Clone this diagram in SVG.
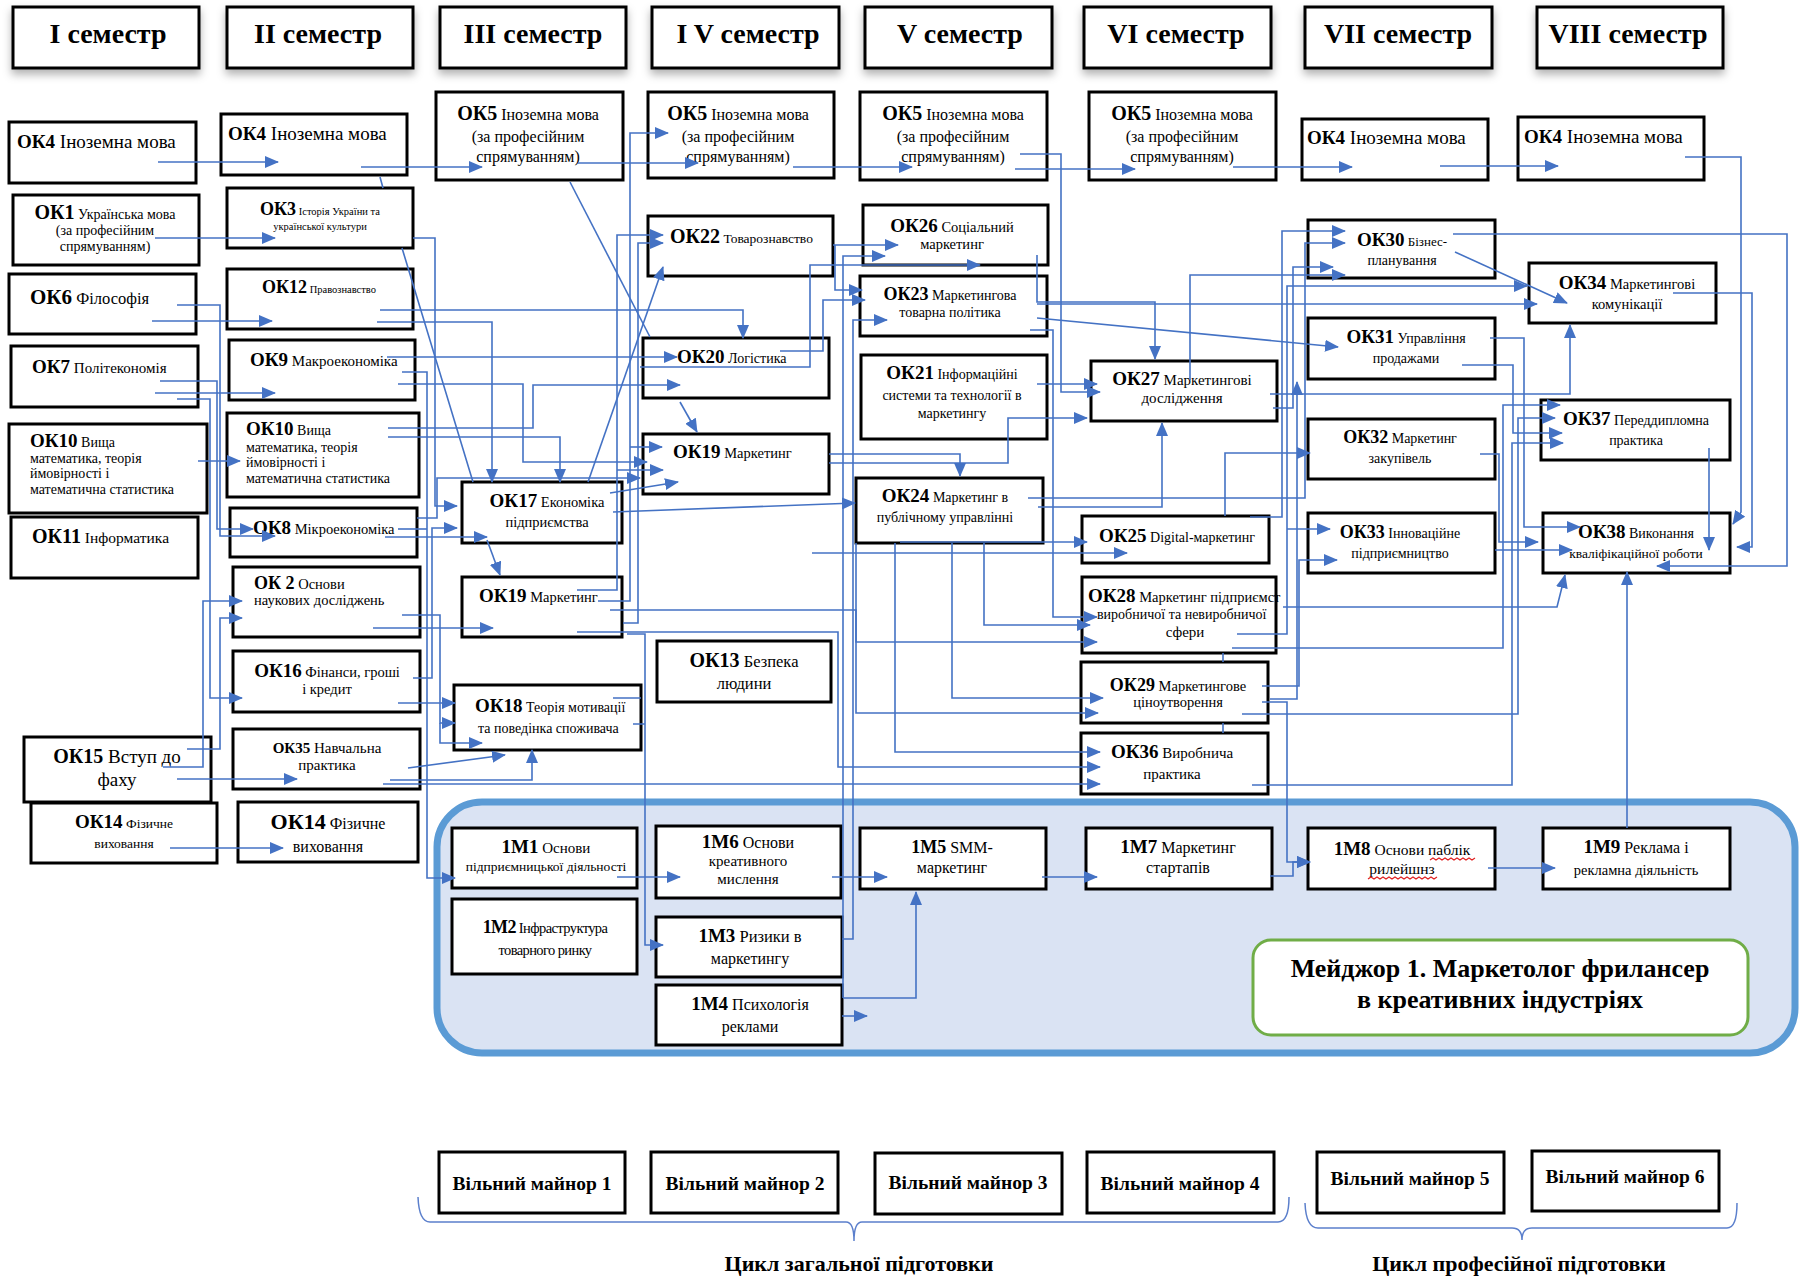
<svg xmlns="http://www.w3.org/2000/svg" width="1806" height="1278" viewBox="0 0 1806 1278">
<defs>
<style>
text{font-family:"Liberation Serif","Times New Roman",serif;fill:#000}
.m{text-anchor:middle}
.b{font-weight:bold}
.box{fill:#fff;stroke:#000;stroke-width:3}
.hd{fill:#fff;stroke:#000;stroke-width:3;filter:url(#sh)}
.h{font-size:28px;font-weight:bold;text-anchor:middle}
.mn{font-size:19.5px;font-weight:bold;text-anchor:middle}
.cy{font-size:22px;font-weight:bold;text-anchor:middle}
.cn path{fill:none;stroke:#4472C4;stroke-width:1.6}
.cn path.a{marker-end:url(#ah)}
.br{fill:none;stroke:#5B7FCC;stroke-width:1.5}
.sq{fill:none;stroke:#E02020;stroke-width:1.2}
</style>
<marker id="ah" markerUnits="userSpaceOnUse" markerWidth="14" markerHeight="12" refX="13" refY="6" orient="auto"><path d="M0,0 L14,6 L0,12 z" fill="#4472C4"/></marker>
<filter id="sh" x="-10%" y="-10%" width="130%" height="160%"><feDropShadow dx="0" dy="5" stdDeviation="4" flood-color="#000" flood-opacity="0.3"/></filter>
</defs>
<rect width="1806" height="1278" fill="#fff"/>

<g id="headers">
<g id="sem1"><rect class="hd" x="13" y="7" width="186" height="61"/><text class="h" x="108" y="43">I семестр</text></g>
<g id="sem2"><rect class="hd" x="227" y="7" width="186" height="61"/><text class="h" x="318" y="43">II семестр</text></g>
<g id="sem3"><rect class="hd" x="440" y="7" width="186" height="61"/><text class="h" x="533" y="43">III семестр</text></g>
<g id="sem4"><rect class="hd" x="652" y="7" width="187" height="61"/><text class="h" x="748" y="43">I V семестр</text></g>
<g id="sem5"><rect class="hd" x="865" y="7" width="187" height="61"/><text class="h" x="960" y="43">V семестр</text></g>
<g id="sem6"><rect class="hd" x="1084" y="7" width="187" height="61"/><text class="h" x="1176" y="43">VI семестр</text></g>
<g id="sem7"><rect class="hd" x="1305" y="7" width="187" height="61"/><text class="h" x="1398" y="43">VII семестр</text></g>
<g id="sem8"><rect class="hd" x="1537" y="7" width="186" height="61"/><text class="h" x="1628" y="43">VIII семестр</text></g>
</g>

<g id="major">
<rect x="437" y="802" width="1358" height="251" rx="45" fill="#DAE3F3" stroke="#5B9BD5" stroke-width="7"/>
</g>

<g id="ok4-1"><rect class="box" x="9" y="122" width="187" height="61"/><text x="17" y="148" font-size="19"><tspan class="b">ОК4</tspan> Іноземна мова</text></g>
<g id="ok1"><rect class="box" x="13" y="195" width="186" height="70"/><text class="m" x="105" y="219" font-size="14"><tspan class="b" font-size="20">ОК1</tspan> Українська мова</text><text class="m" x="105" y="235" font-size="14">(за професійним</text><text class="m" x="105" y="251" font-size="14">спрямуванням)</text></g>
<g id="ok6"><rect class="box" x="9" y="274" width="187" height="60"/><text x="30" y="304" font-size="16.5"><tspan class="b" font-size="21">ОК6</tspan> Філософія</text></g>
<g id="ok7"><rect class="box" x="11" y="346" width="187" height="61"/><text x="32" y="373" font-size="15"><tspan class="b" font-size="19">ОК7</tspan> Політекономія</text></g>
<g id="ok10-1"><rect class="box" x="9" y="424" width="198" height="89"/><text x="30" y="447" font-size="14"><tspan class="b" font-size="19">ОК10</tspan> Вища</text><text x="30" y="463" font-size="14">математика, теорія</text><text x="30" y="478" font-size="14">ймовірності і</text><text x="30" y="494" font-size="14">математична статистика</text></g>
<g id="ok11"><rect class="box" x="11" y="517" width="187" height="61"/><text x="32" y="543" font-size="15.5"><tspan class="b" font-size="20">ОК11</tspan> Інформатика</text></g>
<g id="ok15"><rect class="box" x="24" y="737" width="187" height="65"/><text class="m" x="117" y="763" font-size="19"><tspan class="b" font-size="20">ОК15</tspan> Вступ до</text><text class="m" x="117" y="786" font-size="19">фаху</text></g>
<g id="ok14-1"><rect class="box" x="31" y="803" width="186" height="60"/><text class="m" x="124" y="828" font-size="13.5"><tspan class="b" font-size="19">ОК14</tspan> Фізичне</text><text class="m" x="124" y="848" font-size="13.5">виховання</text></g>

<g id="ok4-2"><rect class="box" x="221" y="114" width="186" height="61"/><text x="228" y="140" font-size="19"><tspan class="b">ОК4</tspan> Іноземна мова</text></g>
<g id="ok3"><rect class="box" x="227" y="188" width="186" height="60"/><text class="m" x="320" y="215" font-size="10.5"><tspan class="b" font-size="18">ОК3</tspan> Історія України та</text><text class="m" x="320" y="230" font-size="10.5">української культури</text></g>
<g id="ok12"><rect class="box" x="227" y="269" width="186" height="60"/><text class="m" x="319" y="293" font-size="10.5"><tspan class="b" font-size="18">ОК12</tspan> Правознавство</text></g>
<g id="ok9"><rect class="box" x="229" y="340" width="186" height="60"/><text x="250" y="366" font-size="15"><tspan class="b" font-size="19">ОК9</tspan> Макроекономіка</text></g>
<g id="ok10-2"><rect class="box" x="227" y="413" width="192" height="84"/><text x="246" y="435" font-size="14"><tspan class="b" font-size="19">ОК10</tspan> Вища</text><text x="246" y="452" font-size="14">математика, теорія</text><text x="246" y="467" font-size="14">ймовірності і</text><text x="246" y="483" font-size="14">математична статистика</text></g>
<g id="ok8"><rect class="box" x="230" y="508" width="187" height="49"/><text x="253" y="534" font-size="14.5"><tspan class="b" font-size="19">ОК8</tspan> Мікроекономіка</text></g>
<g id="ok2"><rect class="box" x="233" y="567" width="187" height="70"/><text x="254" y="589" font-size="14.5"><tspan class="b" font-size="18">ОК 2</tspan> Основи</text><text x="254" y="605" font-size="14.5">наукових досліджень</text></g>
<g id="ok16"><rect class="box" x="233" y="651" width="187" height="61"/><text class="m" x="327" y="677" font-size="14.5"><tspan class="b" font-size="19">ОК16</tspan> Фінанси, гроші</text><text class="m" x="327" y="694" font-size="14.5">і кредит</text></g>
<g id="ok35"><rect class="box" x="233" y="729" width="187" height="60"/><text class="m" x="327" y="753" font-size="15"><tspan class="b">ОК35</tspan> Навчальна</text><text class="m" x="327" y="770" font-size="15">практика</text></g>
<g id="ok14-2"><rect class="box" x="238" y="802" width="180" height="60"/><text class="m" x="328" y="829" font-size="16"><tspan class="b" font-size="22">ОК14</tspan> Фізичне</text><text class="m" x="328" y="852" font-size="16">виховання</text></g>

<g id="ok5-3"><rect class="box" x="436" y="92" width="187" height="88"/><text class="m" x="528" y="120" font-size="16"><tspan class="b" font-size="20">ОК5</tspan> Іноземна мова</text><text class="m" x="528" y="142" font-size="16">(за професійним</text><text class="m" x="528" y="162" font-size="16">спрямуванням)</text></g>
<g id="ok17"><rect class="box" x="462" y="482" width="160" height="61"/><text class="m" x="547" y="507" font-size="14.5"><tspan class="b" font-size="19">ОК17</tspan> Економіка</text><text class="m" x="547" y="527" font-size="14.5">підприємства</text></g>
<g id="ok19-3"><rect class="box" x="462" y="577" width="160" height="60"/><text x="479" y="602" font-size="14.5"><tspan class="b" font-size="19">ОК19</tspan> Маркетинг</text></g>
<g id="ok18"><rect class="box" x="454" y="685" width="187" height="65"/><text x="475" y="712" font-size="14"><tspan class="b" font-size="19">ОК18</tspan> Теорія мотивації</text><text x="478" y="733" font-size="14">та поведінка  споживача</text></g>

<g id="ok5-4"><rect class="box" x="648" y="92" width="186" height="86"/><text class="m" x="738" y="120" font-size="16"><tspan class="b" font-size="20">ОК5</tspan> Іноземна мова</text><text class="m" x="738" y="142" font-size="16">(за професійним</text><text class="m" x="738" y="162" font-size="16">спрямуванням)</text></g>
<g id="ok22"><rect class="box" x="648" y="216" width="185" height="60"/><text x="670" y="243" font-size="13.5"><tspan class="b" font-size="20">ОК22</tspan> Товарознавство</text></g>
<g id="ok20"><rect class="box" x="643" y="338" width="186" height="60"/><text x="677" y="363" font-size="14"><tspan class="b" font-size="19">ОК20</tspan> Логістика</text></g>
<g id="ok19-4"><rect class="box" x="643" y="434" width="186" height="60"/><text x="673" y="458" font-size="14.5"><tspan class="b" font-size="19">ОК19</tspan> Маркетинг</text></g>
<g id="ok13"><rect class="box" x="657" y="641" width="174" height="61"/><text class="m" x="744" y="667" font-size="16.5"><tspan class="b" font-size="20">ОК13</tspan> Безпека</text><text class="m" x="744" y="689" font-size="16.5">людини</text></g>

<g id="ok5-5"><rect class="box" x="860" y="92" width="187" height="88"/><text class="m" x="953" y="120" font-size="16"><tspan class="b" font-size="20">ОК5</tspan> Іноземна мова</text><text class="m" x="953" y="142" font-size="16">(за професійним</text><text class="m" x="953" y="162" font-size="16">спрямуванням)</text></g>
<g id="ok26"><rect class="box" x="863" y="205" width="185" height="60"/><text class="m" x="952" y="232" font-size="14.5"><tspan class="b" font-size="19">ОК26</tspan> Соціальний</text><text class="m" x="952" y="249" font-size="14.5">маркетинг</text></g>
<g id="ok23"><rect class="box" x="860" y="276" width="187" height="60"/><text class="m" x="950" y="300" font-size="14"><tspan class="b" font-size="18">ОК23</tspan> Маркетингова</text><text class="m" x="950" y="317" font-size="14">товарна політика</text></g>
<g id="ok21"><rect class="box" x="861" y="355" width="186" height="84"/><text class="m" x="952" y="379" font-size="14"><tspan class="b" font-size="19">ОК21</tspan> Інформаційні</text><text class="m" x="952" y="400" font-size="14">системи та технології в</text><text class="m" x="952" y="418" font-size="14">маркетингу</text></g>
<g id="ok24"><rect class="box" x="856" y="478" width="187" height="65"/><text class="m" x="945" y="502" font-size="14"><tspan class="b" font-size="19">ОК24</tspan> Маркетинг в</text><text class="m" x="945" y="522" font-size="14">публічному управлінні</text></g>

<g id="ok5-6"><rect class="box" x="1089" y="92" width="187" height="88"/><text class="m" x="1182" y="120" font-size="16"><tspan class="b" font-size="20">ОК5</tspan> Іноземна мова</text><text class="m" x="1182" y="142" font-size="16">(за професійним</text><text class="m" x="1182" y="162" font-size="16">спрямуванням)</text></g>
<g id="ok27"><rect class="box" x="1091" y="361" width="186" height="60"/><text class="m" x="1182" y="385" font-size="15"><tspan class="b" font-size="19">ОК27</tspan> Маркетингові</text><text class="m" x="1182" y="403" font-size="15">дослідження</text></g>
<g id="ok25"><rect class="box" x="1082" y="516" width="187" height="47"/><text x="1099" y="542" font-size="14"><tspan class="b" font-size="19">ОК25</tspan> Digital-маркетинг</text></g>
<g id="ok28"><rect class="box" x="1082" y="577" width="194" height="76"/><text x="1088" y="602" font-size="14.5"><tspan class="b" font-size="19">ОК28</tspan> Маркетинг підприємст</text><text x="1097" y="619" font-size="14">виробничої та невиробничої</text><text class="m" x="1185" y="637" font-size="15">сфери</text></g>
<g id="ok29"><rect class="box" x="1081" y="662" width="187" height="61"/><text class="m" x="1178" y="691" font-size="14.5"><tspan class="b" font-size="18">ОК29</tspan> Маркетингове</text><text class="m" x="1178" y="707" font-size="14.5">ціноутворення</text></g>
<g id="ok36"><rect class="box" x="1081" y="733" width="187" height="61"/><text class="m" x="1172" y="758" font-size="15"><tspan class="b" font-size="19">ОК36</tspan> Виробнича</text><text class="m" x="1172" y="779" font-size="15">практика</text></g>

<g id="ok4-7"><rect class="box" x="1302" y="119" width="186" height="61"/><text x="1307" y="144" font-size="19"><tspan class="b">ОК4</tspan> Іноземна мова</text></g>
<g id="ok30"><rect class="box" x="1308" y="220" width="187" height="58"/><text class="m" x="1402" y="246" font-size="13"><tspan class="b" font-size="19">ОК30</tspan> Бізнес-</text><text class="m" x="1402" y="265" font-size="14">планування</text></g>
<g id="ok31"><rect class="box" x="1308" y="318" width="187" height="61"/><text class="m" x="1406" y="343" font-size="14"><tspan class="b" font-size="19">ОК31</tspan> Управління</text><text class="m" x="1406" y="363" font-size="14">продажами</text></g>
<g id="ok32"><rect class="box" x="1308" y="419" width="187" height="60"/><text class="m" x="1400" y="443" font-size="14"><tspan class="b" font-size="18">ОК32</tspan> Маркетинг</text><text class="m" x="1400" y="463" font-size="14">закупівель</text></g>
<g id="ok33"><rect class="box" x="1308" y="513" width="187" height="60"/><text class="m" x="1400" y="538" font-size="14"><tspan class="b" font-size="18">ОК33</tspan> Інноваційне</text><text class="m" x="1400" y="558" font-size="14">підприємництво</text></g>

<g id="ok4-8"><rect class="box" x="1518" y="117" width="186" height="63"/><text x="1524" y="143" font-size="19"><tspan class="b">ОК4</tspan> Іноземна мова</text></g>
<g id="ok34"><rect class="box" x="1529" y="263" width="187" height="60"/><text class="m" x="1627" y="289" font-size="14.5"><tspan class="b" font-size="19">ОК34</tspan> Маркетингові</text><text class="m" x="1627" y="309" font-size="14.5">комунікації</text></g>
<g id="ok37"><rect class="box" x="1541" y="400" width="189" height="60"/><text class="m" x="1636" y="425" font-size="14"><tspan class="b" font-size="19">ОК37</tspan> Переддипломна</text><text class="m" x="1636" y="445" font-size="14">практика</text></g>
<g id="ok38"><rect class="box" x="1543" y="513" width="187" height="60"/><text class="m" x="1636" y="538" font-size="14"><tspan class="b" font-size="19">ОК38</tspan> Виконання</text><text class="m" x="1636" y="558" font-size="13.5">кваліфікаційної роботи</text></g>

<g id="m1-1"><rect class="box" x="452" y="828" width="185" height="60"/><text class="m" x="546" y="853" font-size="15"><tspan class="b" font-size="19">1М1</tspan> Основи</text><text class="m" x="546" y="871" font-size="13.5">підприємницької діяльності</text></g>
<g id="m1-6"><rect class="box" x="656" y="826" width="185" height="72"/><text class="m" x="748" y="848" font-size="16"><tspan class="b" font-size="19">1М6</tspan> Основи</text><text class="m" x="748" y="866" font-size="15">креативного</text><text class="m" x="748" y="884" font-size="15">мислення</text></g>
<g id="m1-2"><rect class="box" x="452" y="899" width="185" height="75"/><text class="m" x="545" y="933" font-size="14.5" letter-spacing="-0.6"><tspan class="b" font-size="18">1М2</tspan> Інфраструктура</text><text class="m" x="545" y="955" font-size="14.5" letter-spacing="-0.6">товарного ринку</text></g>
<g id="m1-3"><rect class="box" x="656" y="917" width="186" height="60"/><text class="m" x="750" y="942" font-size="16.5"><tspan class="b" font-size="19">1М3</tspan> Ризики в</text><text class="m" x="750" y="964" font-size="16">маркетингу</text></g>
<g id="m1-4"><rect class="box" x="656" y="985" width="186" height="60"/><text class="m" x="750" y="1010" font-size="16"><tspan class="b" font-size="19">1М4</tspan> Психологія</text><text class="m" x="750" y="1032" font-size="16">реклами</text></g>
<g id="m1-5"><rect class="box" x="860" y="828" width="186" height="61"/><text class="m" x="952" y="853" font-size="16"><tspan class="b" font-size="18">1М5</tspan> SMM-</text><text class="m" x="952" y="873" font-size="16">маркетинг</text></g>
<g id="m1-7"><rect class="box" x="1086" y="828" width="186" height="61"/><text class="m" x="1178" y="853" font-size="16"><tspan class="b" font-size="19">1М7</tspan> Маркетинг</text><text class="m" x="1178" y="873" font-size="16">стартапів</text></g>
<g id="m1-8"><rect class="box" x="1308" y="828" width="187" height="61"/><text class="m" x="1402" y="855" font-size="15.5"><tspan class="b" font-size="19">1М8</tspan> Основи паблік</text><text class="m" x="1402" y="874" font-size="15.5">рилейшнз</text><path class="sq" d="M1430 860 l3 -2 l3 2 l3 -2 l3 2 l3 -2 l3 2 l3 -2 l3 2 l3 -2 l3 2 l3 -2 l3 2 l3 -2 l3 2 l3 -2 M1368 879 l3 -2 l3 2 l3 -2 l3 2 l3 -2 l3 2 l3 -2 l3 2 l3 -2 l3 2 l3 -2 l3 2 l3 -2 l3 2 l3 -2 l3 2 l3 -2 l3 2 l3 -2 l3 2 l3 -2 l3 2 l3 -2"/></g>
<g id="m1-9"><rect class="box" x="1543" y="828" width="187" height="61"/><text class="m" x="1636" y="853" font-size="16"><tspan class="b" font-size="19">1М9</tspan> Реклама і</text><text class="m" x="1636" y="875" font-size="14.5">рекламна діяльність</text></g>
<g id="major-title"><rect x="1253" y="940" width="495" height="95" rx="18" fill="#fff" stroke="#70AD47" stroke-width="3"/><text class="m b" x="1500" y="977" font-size="26">Мейджор 1. Маркетолог фрилансер</text><text class="m b" x="1500" y="1008" font-size="26">в креативних індустріях</text></g>

<g id="minors">
<g id="vm1"><rect class="box" x="439" y="1152" width="186" height="61"/><text class="mn" x="532" y="1190">Вільний майнор 1</text></g>
<g id="vm2"><rect class="box" x="651" y="1152" width="187" height="61"/><text class="mn" x="745" y="1190">Вільний майнор 2</text></g>
<g id="vm3"><rect class="box" x="875" y="1153" width="187" height="61"/><text class="mn" x="968" y="1189">Вільний майнор 3</text></g>
<g id="vm4"><rect class="box" x="1087" y="1152" width="187" height="61"/><text class="mn" x="1180" y="1190">Вільний майнор 4</text></g>
<g id="vm5"><rect class="box" x="1317" y="1152" width="187" height="61"/><text class="mn" x="1410" y="1185">Вільний майнор 5</text></g>
<g id="vm6"><rect class="box" x="1532" y="1151" width="187" height="60"/><text class="mn" x="1625" y="1183">Вільний майнор 6</text></g>
</g>
<g id="cycles">
<path class="br" d="M418 1197 Q419 1222 430 1222 H846 Q854 1222 854 1241 Q854 1222 862 1222 H1278 Q1289 1222 1289 1197"/>
<path class="br" d="M1305 1203 Q1306 1228 1318 1228 H1512 Q1522 1228 1522 1240 Q1522 1228 1532 1228 H1727 Q1737 1228 1737 1203"/>
<text class="cy" x="859" y="1271">Цикл загальної підготовки</text>
<text class="cy" x="1519" y="1271">Цикл професійної підготовки</text>
</g>

<g id="connectors" class="cn">
<path class="a" d="M158 162 H278"/>
<path class="a" d="M361 167 H482"/>
<path class="a" d="M578 163 H698"/>
<path class="a" d="M793 167 H912"/>
<path class="a" d="M1015 169 H1135"/>
<path class="a" d="M1233 167 H1352"/>
<path class="a" d="M1440 166 H1558"/>
<path d="M380 177 L383 188 M402 248 L473 482"/>
<path d="M570 182 L650 337"/>
<path class="a" d="M155 238 H275"/>
<path class="a" d="M152 321 H272"/>
<path class="a" d="M155 393 H275"/>
<path class="a" d="M198 461 H240"/>
<path class="a" d="M177 305 H220 V536 H275"/>
<path class="a" d="M187 749 H220 V618 H242"/>
<path class="a" d="M160 381 H217 V529 H253"/>
<path class="a" d="M177 399 H210 V698 H242"/>
<path class="a" d="M163 767 H203 V601 H242"/>
<path class="a" d="M177 779 H297"/>
<path class="a" d="M170 848 H283"/>
<path class="a" d="M413 238 H435 V506 H457"/>
<path class="a" d="M380 310 H743 V338"/>
<path class="a" d="M377 322 H492 V482"/>
<path class="a" d="M387 357 H677"/>
<path class="a" d="M402 372 H427 V878 H455"/>
<path class="a" d="M398 384 H523 V462 H647"/>
<path class="a" d="M388 428 H533 V385 H680"/>
<path class="a" d="M388 437 H560 V482"/>
<path d="M398 529 H427"/>
<path class="a" d="M417 518 H437 V478 H640"/>
<path class="a" d="M385 537 H487"/>
<path class="a" d="M487 540 L500 575"/>
<path class="a" d="M402 615 H440 V723 H455"/>
<path class="a" d="M373 628 H493"/>
<path class="a" d="M413 678 H432 V528 H457"/>
<path class="a" d="M398 703 H455"/>
<path class="a" d="M440 723 V743 H482"/>
<path class="a" d="M408 768 L505 755"/>
<path class="a" d="M390 780 H532 V750"/>
<path class="a" d="M383 784 H1100"/>
<path class="a" d="M588 482 L663 267"/>
<path class="a" d="M610 493 L678 482"/>
<path class="a" d="M630 447 H662"/>
<path class="a" d="M617 470 H663"/>
<path class="a" d="M613 512 L855 503"/>
<path class="a" d="M577 590 H617 V235 H663"/>
<path class="a" d="M598 601 H630 V133 H668"/>
<path class="a" d="M610 610 H856 V642 H1097"/>
<path class="a" d="M623 623 H638 V243 H663"/>
<path class="a" d="M577 632 H838 V767 H1100"/>
<path class="a" d="M627 634 H645 V945 H663"/>
<path d="M613 698 H641 M633 724 H645"/>
<path class="a" d="M680 402 L697 432"/>
<path class="a" d="M780 351 H823 V300 H865"/>
<path class="a" d="M640 367 H810 V265 H980"/>
<path class="a" d="M833 245 H898"/>
<path class="a" d="M835 245 V290 H862"/>
<path class="a" d="M843 998 V256 H885"/>
<path class="a" d="M843 998 H916 V892"/>
<path class="a" d="M842 939 H853 V320 H887"/>
<path class="a" d="M829 454 H960 V476"/>
<path class="a" d="M829 463 H1008 V418 H1087"/>
<path class="a" d="M1020 154 H1061 V392 H1100"/>
<path class="a" d="M1037 255 V302 H1155 V359"/>
<path class="a" d="M1037 304 H1537"/>
<path class="a" d="M1037 318 L1338 347"/>
<path class="a" d="M1030 330 H1053 V617 H1097"/>
<path class="a" d="M1037 384 H1097"/>
<path class="a" d="M1028 498 H1305 V243 H1345"/>
<path class="a" d="M1038 507 H1162 V423"/>
<path class="a" d="M952 543 V698 H1103"/>
<path class="a" d="M984 543 V625 H1090"/>
<path class="a" d="M895 543 V752 H1100"/>
<path class="a" d="M856 543 V713 H1098"/>
<path class="a" d="M812 553 H1127"/>
<path class="a" d="M900 542 H1087"/>
<path class="a" d="M1190 380 V275 H1345"/>
<path class="a" d="M1273 408 H1293 V267 H1333"/>
<path class="a" d="M1270 394 H1570 V325"/>
<path class="a" d="M1250 517 H1282 V231 H1345"/>
<path class="a" d="M1225 516 V453 H1310"/>
<path class="a" d="M1237 634 H1287 V286 H1527"/>
<path class="a" d="M1287 529 H1330"/>
<path class="a" d="M1283 607 H1557 L1565 575"/>
<path class="a" d="M1232 648 H1503 V405 H1560"/>
<path class="a" d="M1262 686 H1299 V560 H1337"/>
<path class="a" d="M1270 699 H1297 V382"/>
<path class="a" d="M1262 702 H1287 V862 H1310"/>
<path class="a" d="M1242 714 H1518 V418 H1555"/>
<path class="a" d="M1252 785 H1512 V443 H1563"/>
<path d="M1223 653 V662 M1223 723 V733"/>
<path class="a" d="M1455 252 L1567 303"/>
<path class="a" d="M1453 234 H1787 V566 H1657"/>
<path class="a" d="M1685 157 H1741 V512 L1733 524"/>
<path class="a" d="M1673 293 H1752 V547 H1737"/>
<path class="a" d="M1490 338 H1524 V527 H1580"/>
<path class="a" d="M1462 365 H1513 V433 H1562"/>
<path class="a" d="M1480 454 H1499 V542 H1538"/>
<path class="a" d="M1495 550 H1572"/>
<path class="a" d="M1709 448 V550"/>
<path class="a" d="M1627 828 V572"/>
<path class="a" d="M617 877 H680"/>
<path class="a" d="M832 877 H887"/>
<path class="a" d="M1042 877 H1097"/>
<path class="a" d="M1270 876 H1293 V862 H1310"/>
<path class="a" d="M1488 868 H1555"/>
<path class="a" d="M842 1016 H867"/>
</g>
</svg>
